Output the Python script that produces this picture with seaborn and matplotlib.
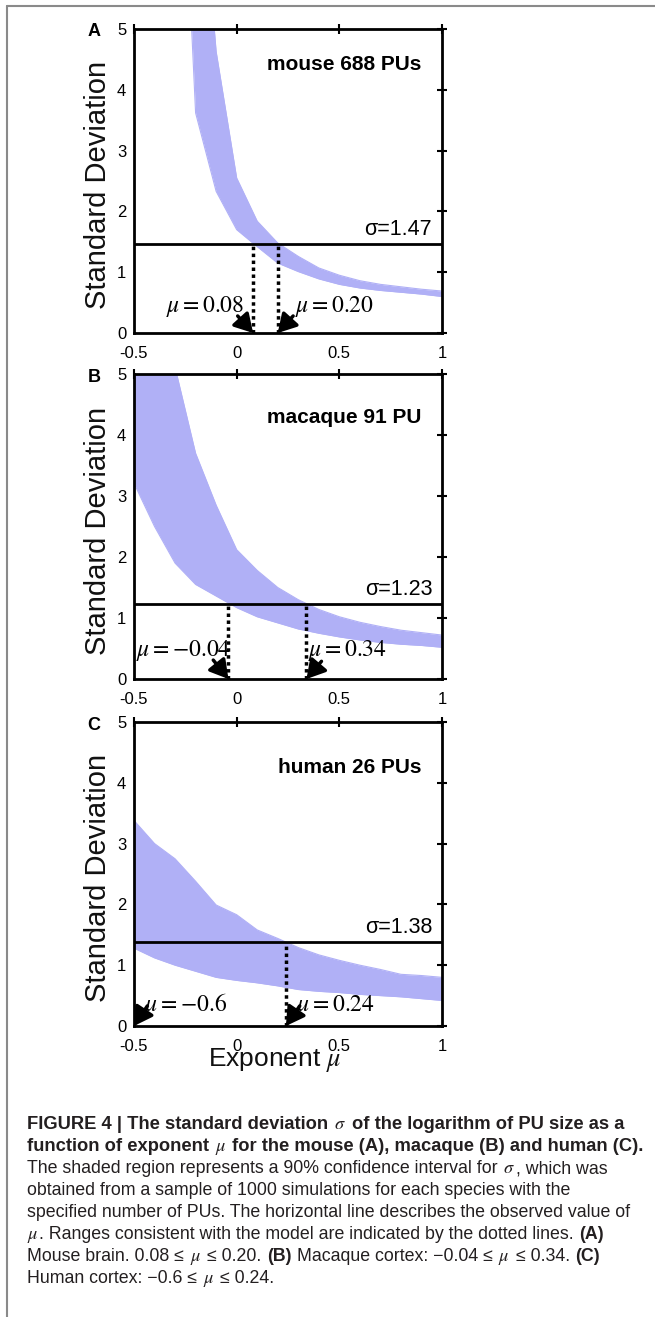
import numpy as np
import pandas as pd
import matplotlib
matplotlib.use("Agg")
import matplotlib.pyplot as plt
import matplotlib.font_manager as fm
import seaborn as sns
from matplotlib.lines import Line2D

# ---------------- data ----------------
mu_A = [-0.3, -0.2, -0.1, 0.0, 0.1, 0.2, 0.3, 0.4, 0.5, 0.6, 0.7, 0.8, 0.9, 1.0]
upper_A = [14.0, 8.7, 4.63, 2.55, 1.84, 1.48, 1.26, 1.07, 0.95, 0.86, 0.80, 0.76, 0.72, 0.69]
lower_A = [10.8, 3.62, 2.33, 1.70, 1.42, 1.15, 1.01, 0.89, 0.80, 0.74, 0.70, 0.67, 0.64, 0.60]

mu_B = [-0.5, -0.4, -0.3, -0.2, -0.1, 0.0, 0.1, 0.2, 0.3, 0.4, 0.5, 0.6, 0.7, 0.8, 0.9, 1.0]
upper_B = [10.0, 7.0, 5.11, 3.70, 2.85, 2.12, 1.78, 1.50, 1.30, 1.14, 1.02, 0.93, 0.86, 0.80, 0.76, 0.72]
lower_B = [3.21, 2.50, 1.90, 1.55, 1.36, 1.17, 1.02, 0.92, 0.82, 0.75, 0.69, 0.64, 0.60, 0.57, 0.55, 0.52]

mu_C = [-0.5, -0.4, -0.3, -0.2, -0.1, 0.0, 0.1, 0.2, 0.3, 0.4, 0.5, 0.6, 0.7, 0.8, 0.9, 1.0]
upper_C = [3.38, 3.00, 2.75, 2.38, 1.99, 1.83, 1.58, 1.44, 1.29, 1.17, 1.08, 1.00, 0.93, 0.85, 0.83, 0.80]
lower_C = [1.28, 1.12, 1.00, 0.90, 0.80, 0.75, 0.71, 0.66, 0.60, 0.57, 0.55, 0.52, 0.50, 0.48, 0.45, 0.42]

sigma_obs = [1.47, 1.23, 1.38]
range_low = [0.08, -0.04, -0.6]
range_high = [0.20, 0.34, 0.24]
range_low_txt = ["0.08", "-0.04", "-0.6"]
range_high_txt = ["0.20", "0.34", "0.24"]
titles = ["mouse 688 PUs", "macaque 91 PU", "human 26 PUs"]
letters = ["A", "B", "C"]
x_ticks = [-0.5, 0, 0.5, 1]
x_ticklabels = ["-0.5", "0", "0.5", "1"]
y_ticks = [0, 1, 2, 3, 4, 5]
y_ticklabels = ["0", "1", "2", "3", "4", "5"]

# ---------------- style ----------------
sns.set_theme(style="white")
plt.rcParams["font.family"] = ["Liberation Sans", "DejaVu Sans"]
plt.rcParams["mathtext.fontset"] = "stix"

names = {f.name for f in fm.fontManager.ttflist}
NARROW = "Liberation Sans Narrow" if "Liberation Sans Narrow" in names else "Liberation Sans"
narrow_fam = [NARROW, "Liberation Sans", "DejaVu Sans"]
is_narrow = NARROW == "Liberation Sans Narrow"
TITLE_FS = 17 if is_narrow else 15
SIG_FS = 17 if is_narrow else 15.5

BAND = "#b0b0f6"
W, H = 655, 1317
fig = plt.figure(figsize=(W / 100, H / 100), dpi=100)
fig.patch.set_facecolor("white")

# frame lines (left and top)
fig.add_artist(Line2D([7 / W, 7 / W], [0, 1 - 6 / H], color="#8a8a8a", lw=1.5))
fig.add_artist(Line2D([7 / W, 1], [1 - 6 / H, 1 - 6 / H], color="#8a8a8a", lw=1.5))

panel_px = [(29, 333), (374, 679), (722, 1026)]
left_px, right_px = 134, 442
bands = [(mu_A, upper_A, lower_A), (mu_B, upper_B, lower_B), (mu_C, upper_C, lower_C)]

# annotation layout per panel: (label x, label baseline y), arrow tail
ann_low = [((-0.156, 0.34), (0.005, 0.28)), ((-0.257, 0.37), (-0.114, 0.31)), ((-0.249, 0.24), (-0.435, 0.33))]
ann_high = [((0.476, 0.34), (0.275, 0.28)), ((0.538, 0.37), (0.413, 0.29)), ((0.481, 0.24), (0.307, 0.33))]
title_base = [4.33, 4.19, 4.16]

for i, (top, bot) in enumerate(panel_px):
    ax = fig.add_axes([left_px / W, 1 - bot / H, (right_px - left_px) / W, (bot - top) / H])
    mu, up, lo = bands[i]
    df = pd.DataFrame({"mu": mu, "upper": up, "lower": lo})
    ax.fill_between(df["mu"], df["lower"], df["upper"], color=BAND, lw=0, zorder=1)
    sns.lineplot(data=df, x="mu", y="upper", color=BAND, lw=0.8, ax=ax, zorder=1)
    sns.lineplot(data=df, x="mu", y="lower", color=BAND, lw=0.8, ax=ax, zorder=1)
    sig = sigma_obs[i]
    ax.axhline(sig, color="black", lw=2, zorder=3)
    for xv in (range_low[i], range_high[i]):
        if -0.5 <= xv <= 1:
            ax.plot([xv, xv], [0, sig], color="black", lw=2.5, ls=(0, (1, 1)), zorder=3)
    # arrows and labels
    tip_low = max(range_low[i], -0.5)
    for (lab_xy, tail), tipx, txt in ((ann_low[i], tip_low, range_low_txt[i]),
                                      (ann_high[i], range_high[i], range_high_txt[i])):
        ax.annotate("", xy=(tipx, 0), xytext=tail,
                    arrowprops=dict(arrowstyle="-|>,head_length=0.55,head_width=0.32",
                                    color="black", lw=2.5, shrinkA=0, shrinkB=0,
                                    mutation_scale=20),
                    annotation_clip=False, zorder=5)
        ax.text(lab_xy[0], lab_xy[1], r"$\mu = %s$" % txt, ha="center", va="baseline",
                fontsize=17, color="black", zorder=5)
    ax.text(0.968, sig + 0.15, "σ=%.2f" % sig, transform=ax.get_yaxis_transform(),
            ha="right", va="baseline", fontsize=SIG_FS, family=narrow_fam, color="black")
    ax.text(0.932, title_base[i], titles[i], transform=ax.get_yaxis_transform(),
            ha="right", va="baseline", fontsize=TITLE_FS, fontweight="bold", family=narrow_fam,
            color="black")
    ax.set_xlim(-0.5, 1)
    ax.set_ylim(0, 5)
    ax.set_xticks(x_ticks)
    ax.set_xticklabels(x_ticklabels)
    ax.set_yticks(y_ticks)
    ax.set_yticklabels(y_ticklabels)
    ax.set_xlabel("")
    ax.set_ylabel("")
    ax.tick_params(direction="inout", length=7, width=1.5, top=True, right=True,
                   labelsize=12, colors="black")
    ax.tick_params(axis="x", pad=6)
    ax.tick_params(axis="y", pad=2)
    for sp in ax.spines.values():
        sp.set_linewidth(2)
        sp.set_color("black")
        sp.set_visible(True)
    ax.set_facecolor("white")
    # y label
    fig.text(98 / W, 1 - ((top + bot) / 2 + 4) / H, "Standard Deviation", rotation=90,
             ha="center", va="center", fontsize=21, color="#111111")
    # panel letter
    fig.text(94 / W, 1 - (top + 3) / H, letters[i], ha="center", va="center",
             fontsize=13, fontweight="bold", color="black")
    if i == 2:
        ax.text(0.457, -0.112, r"Exponent $\mu$", transform=ax.transAxes, ha="center",
                va="center", fontsize=19, color="#111111")

# ---------------- caption ----------------
renderer = fig.canvas.get_renderer()
CAP = "#231f20"
R = dict(fontsize=12.8, color=CAP)
Bi = dict(fontsize=12.8, color=CAP, fontweight="bold")
B = dict(fontsize=13.2, color=CAP, fontweight="bold")
M = dict(fontsize=13.2, color=CAP)


def measure(s, kw):
    t = fig.text(0, 0, s, **kw)
    w = t.get_window_extent(renderer).width
    t.remove()
    return w


def draw_segments(x_px, y_px, segs):
    x = x_px
    for s, kw in segs:
        lead = len(s) - len(s.lstrip(" "))
        trail = len(s) - len(s.rstrip(" "))
        core = s.strip(" ")
        sw = measure("a a", kw) - measure("aa", kw) if (lead or trail) else 0
        x += lead * sw
        if core:
            t = fig.text(x / W, 1 - y_px / H, core, ha="left", va="baseline", **kw)
            x += t.get_window_extent(renderer).width + 0.8
        x += trail * sw


cap_lines = [
    [("FIGURE 4 | The standard deviation ", B), (r"$\sigma$", M), (" of the logarithm of PU size as a", B)],
    [("function of exponent ", B), (r"$\mu$", M), (" for the mouse (A), macaque (B) and human (C).", B)],
    [("The shaded region represents a 90% confidence interval for ", R), (r"$\sigma$", M), (", which was", R)],
    [("obtained from a sample of 1000 simulations for each species with the", R)],
    [("specified number of PUs. The horizontal line describes the observed value of", R)],
    [(r"$\mu$", M), (". Ranges consistent with the model are indicated by the dotted lines. ", R), ("(A)", Bi)],
    [("Mouse brain. 0.08 ≤ ", R), (r"$\mu$", M), (" ≤ 0.20. ", R), ("(B)", Bi),
     (" Macaque cortex: −0.04 ≤ ", R), (r"$\mu$", M), (" ≤ 0.34. ", R), ("(C)", Bi)],
    [("Human cortex: −0.6 ≤ ", R), (r"$\mu$", M), (" ≤ 0.24.", R)],
]
cap_base = [1129, 1151, 1173, 1195, 1217, 1239, 1261, 1283]
for segs, yb in zip(cap_lines, cap_base):
    draw_segments(27, yb, segs)

fig.savefig("out.png", dpi=100, facecolor="white")
